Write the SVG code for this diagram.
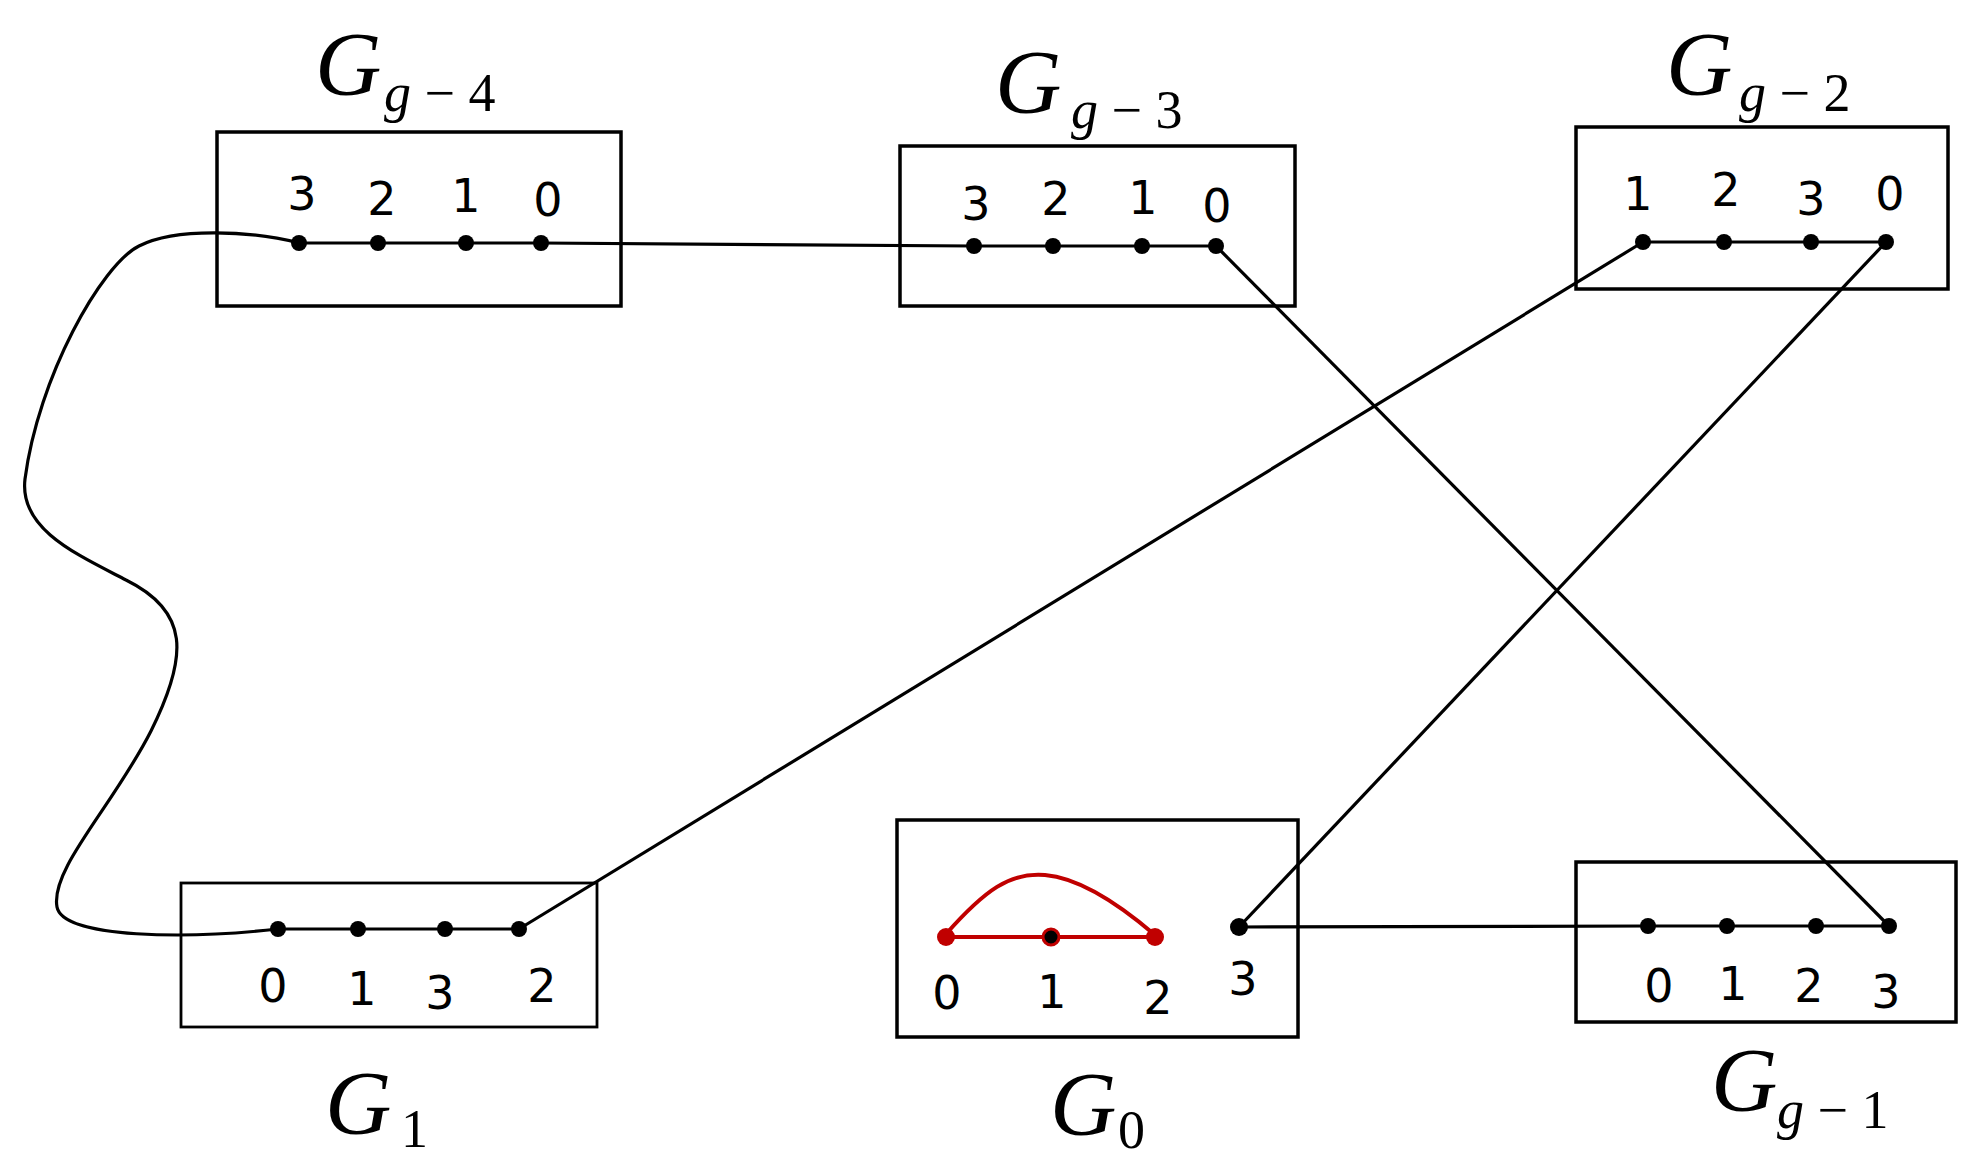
<svg xmlns="http://www.w3.org/2000/svg" width="1975" height="1171" viewBox="0 0 1975 1171">
<style>
.box{fill:none;stroke:#000;stroke-width:3.5}
.ln{fill:none;stroke:#000;stroke-width:3.2}
.red{fill:none;stroke:#c00000;stroke-width:4}
.d{fill:#000}
.rd{fill:#c00000}
.n{font-family:"DejaVu Sans",sans-serif;font-size:46px;text-anchor:middle;fill:#000}
.t{font-family:"Liberation Serif",serif;font-style:italic;font-size:92px;fill:#000}
.s{font-family:"Liberation Serif",serif;font-size:54px;fill:#000}
.si{font-style:italic}
</style>
<rect width="1975" height="1171" fill="#fff"/>
<g id="connectors">
<path class="ln" d="M541,243 C700,245 850,246 974,246"/>
<path class="ln" d="M1216,246 L1889,926"/>
<path class="ln" d="M1643,242 L519,929"/>
<path class="ln" d="M1886,242 L1239,927"/>
<path class="ln" d="M1239,927 L1648,926"/>
<path class="ln" d="M299,243 C252,231 176,227 139,246 C101,265 38,378 25,479 C19,529 76,554 126,580 C189,611 189,655 151,731 C113,806 50,869 57,907 C63,939 189,939 278,929"/>
</g>
<g id="Gg4">
<rect class="box" x="217" y="132" width="404" height="174"/>
<line class="ln" x1="299" y1="243" x2="541" y2="243"/>
<circle class="d" cx="299" cy="243" r="8"/><circle class="d" cx="378" cy="243" r="8"/><circle class="d" cx="466" cy="243" r="8"/><circle class="d" cx="541" cy="243" r="8"/>
<text class="n" x="302" y="210">3</text><text class="n" x="382" y="215">2</text><text class="n" x="466" y="212">1</text><text class="n" x="548" y="216">0</text>
<text x="315" y="95"><tspan class="t">G</tspan><tspan class="s" x="384" y="111"><tspan class="si">g</tspan> − 4</tspan></text>
</g>
<g id="Gg3">
<rect class="box" x="900" y="146" width="395" height="160"/>
<line class="ln" x1="974" y1="246" x2="1216" y2="246"/>
<circle class="d" cx="974" cy="246" r="8"/><circle class="d" cx="1053" cy="246" r="8"/><circle class="d" cx="1142" cy="246" r="8"/><circle class="d" cx="1216" cy="246" r="8"/>
<text class="n" x="976" y="220">3</text><text class="n" x="1056" y="215">2</text><text class="n" x="1143" y="214">1</text><text class="n" x="1217" y="222">0</text>
<text x="995" y="113"><tspan class="t">G</tspan><tspan class="s" x="1071" y="128"><tspan class="si">g</tspan> − 3</tspan></text>
</g>
<g id="Gg2">
<rect class="box" x="1576" y="127" width="372" height="162"/>
<line class="ln" x1="1643" y1="242" x2="1886" y2="242"/>
<circle class="d" cx="1643" cy="242" r="8"/><circle class="d" cx="1724" cy="242" r="8"/><circle class="d" cx="1811" cy="242" r="8"/><circle class="d" cx="1886" cy="242" r="8"/>
<text class="n" x="1638" y="210">1</text><text class="n" x="1726" y="206">2</text><text class="n" x="1811" y="215">3</text><text class="n" x="1890" y="210">0</text>
<text x="1666" y="95"><tspan class="t">G</tspan><tspan class="s" x="1739" y="111"><tspan class="si">g</tspan> − 2</tspan></text>
</g>
<g id="G1">
<rect class="box" x="181" y="883" width="416" height="144" style="stroke-width:2.8"/>
<line class="ln" x1="278" y1="929" x2="519" y2="929"/>
<circle class="d" cx="278" cy="929" r="8"/><circle class="d" cx="358" cy="929" r="8"/><circle class="d" cx="445" cy="929" r="8"/><circle class="d" cx="519" cy="929" r="8"/>
<text class="n" x="273" y="1002">0</text><text class="n" x="362" y="1005">1</text><text class="n" x="440" y="1009">3</text><text class="n" x="542" y="1002">2</text>
<text x="325" y="1134"><tspan class="t">G</tspan><tspan class="s" x="401" y="1147">1</tspan></text>
</g>
<g id="G0">
<rect class="box" x="897" y="820" width="401" height="217"/>
<path class="red" d="M946,934 C985,890 1010,872 1045,875 C1080,878 1120,905 1155,935"/>
<line class="red" x1="946" y1="937" x2="1155" y2="937"/>
<circle class="rd" cx="946" cy="937" r="9"/><circle class="rd" cx="1155" cy="937" r="9"/>
<circle cx="1051" cy="937" r="8" fill="#000" stroke="#c00000" stroke-width="3"/>
<circle class="d" cx="1239" cy="927" r="9"/>
<text class="n" x="947" y="1009">0</text><text class="n" x="1052" y="1008">1</text><text class="n" x="1158" y="1014">2</text><text class="n" x="1243" y="995">3</text>
<text x="1050" y="1135"><tspan class="t">G</tspan><tspan class="s" x="1118" y="1148">0</tspan></text>
</g>
<g id="Gg1">
<rect class="box" x="1576" y="862" width="380" height="160"/>
<line class="ln" x1="1648" y1="926" x2="1889" y2="926"/>
<circle class="d" cx="1648" cy="926" r="8"/><circle class="d" cx="1727" cy="926" r="8"/><circle class="d" cx="1816" cy="926" r="8"/><circle class="d" cx="1889" cy="926" r="8"/>
<text class="n" x="1659" y="1002">0</text><text class="n" x="1733" y="1000">1</text><text class="n" x="1809" y="1002">2</text><text class="n" x="1886" y="1008">3</text>
<text x="1711" y="1111"><tspan class="t">G</tspan><tspan class="s" x="1777" y="1128"><tspan class="si">g</tspan> − 1</tspan></text>
</g>
</svg>
